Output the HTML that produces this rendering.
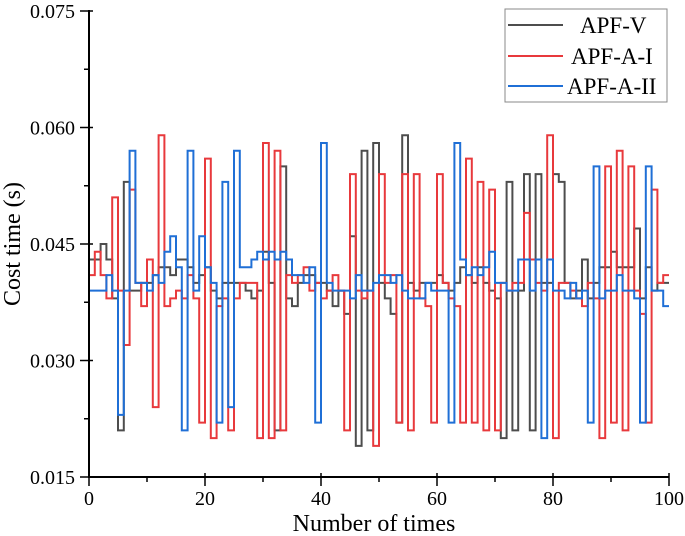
<!DOCTYPE html>
<html><head><meta charset="utf-8"><style>
body{margin:0;background:#fff;}
svg{display:block;font-family:"Liberation Serif","Times New Roman",serif;}
</style></head><body>
<svg id="chart" width="685" height="536">
<g id="plot"></g>
<g id="axes"></g>
<g>
<rect x="505" y="9" width="162" height="93" fill="#fff" stroke="#888" stroke-width="1"/>
<g><line x1="508" y1="25" x2="563" y2="25" stroke="#4d4d4d" stroke-width="2"/><text x="580" y="33" font-size="23">APF-V</text></g>
<g><line x1="508" y1="56" x2="563" y2="56" stroke="#e8393c" stroke-width="2"/><text x="571" y="64" font-size="23">APF-A-I</text></g>
<g><line x1="508" y1="86" x2="563" y2="86" stroke="#1f6fd6" stroke-width="2"/><text x="567" y="94" font-size="23">APF-A-II</text></g>
</g>
<text x="374" y="531" font-size="24" text-anchor="middle">Number of times</text>
<text transform="translate(20,244) rotate(-90)" font-size="24" text-anchor="middle">Cost time (s)</text>
</svg>
<script>
const seriesNames = ["APF-V","APF-A-I","APF-A-II"];
const apfV = [.043,.043,.045,.043,.038,.021,.053,.039,.039,.040,.040,.041,.042,.042,.041,.043,.043,.042,.040,.041,.042,.039,.038,.040,.040,.040,.040,.039,.038,.039,.044,.040,.021,.055,.038,.037,.040,.041,.041,.040,.040,.039,.037,.039,.036,.046,.019,.057,.021,.058,.040,.038,.036,.022,.059,.040,.039,.040,.040,.040,.041,.040,.039,.040,.042,.041,.040,.042,.040,.039,.038,.020,.053,.021,.039,.054,.021,.054,.040,.040,.054,.053,.040,.038,.039,.043,.038,.040,.042,.042,.044,.042,.042,.042,.047,.038,.042,.039,.040,.040];
const apfAI = [.041,.044,.041,.038,.051,.039,.032,.052,.040,.037,.043,.024,.059,.037,.038,.039,.038,.041,.038,.022,.056,.020,.037,.038,.021,.038,.040,.040,.040,.020,.058,.020,.057,.021,.041,.040,.041,.042,.039,.040,.038,.039,.041,.039,.021,.054,.039,.038,.039,.019,.054,.040,.041,.022,.054,.021,.054,.038,.037,.022,.054,.040,.038,.037,.022,.056,.022,.053,.021,.052,.021,.040,.039,.040,.040,.049,.043,.040,.039,.059,.020,.040,.040,.039,.038,.037,.040,.038,.020,.055,.022,.057,.021,.055,.039,.036,.022,.052,.040,.041];
const apfAII = [.039,.039,.039,.041,.039,.023,.039,.057,.040,.040,.039,.041,.040,.044,.046,.042,.021,.057,.039,.046,.042,.040,.022,.053,.024,.057,.042,.042,.043,.044,.043,.044,.043,.044,.043,.041,.041,.040,.042,.022,.058,.040,.039,.039,.039,.038,.041,.039,.039,.040,.041,.041,.040,.041,.039,.038,.038,.038,.040,.039,.039,.039,.022,.058,.043,.041,.042,.041,.042,.044,.040,.040,.039,.039,.043,.043,.039,.043,.020,.043,.039,.039,.038,.040,.038,.039,.022,.055,.038,.039,.039,.041,.039,.039,.038,.022,.055,.039,.039,.037];
const yTicks = [0.015,0.030,0.045,0.060,0.075];
const yTickLabels = ["0.015","0.030","0.045","0.060","0.075"];
const xTicks = [0,20,40,60,80,100];

const X0=89,X1=669,Y0=477,Y1=11;
const sx = v => X0 + (v-0)/(100-0)*(X1-X0);
const sy = v => Y0 - (v-0.015)/(0.075-0.015)*(Y0-Y1);
const NS="http://www.w3.org/2000/svg";
const plot=document.getElementById('plot'), axes=document.getElementById('axes');
function mk(tag,attrs,parent){const e=document.createElementNS(NS,tag);for(const k in attrs)e.setAttribute(k,attrs[k]);parent.appendChild(e);return e;}

function stepPath(vals){
  let d='M'+sx(0)+','+sy(vals[0]);
  for(let i=0;i<vals.length;i++){
    if(i>0) d+=' L'+sx(i)+','+sy(vals[i]);
    d+=' L'+sx(i+1)+','+sy(vals[i]);
  }
  return d;
}
const series=[[apfV,'#4d4d4d','series-apf-v'],[apfAI,'#e8393c','series-apf-a-i'],[apfAII,'#1f6fd6','series-apf-a-ii']];
series.forEach(s=>{
  const p=mk('path',{d:stepPath(s[0]),fill:'none',stroke:s[1],'stroke-width':2,'stroke-linejoin':'miter'},plot);
  
  
});

mk('line',{x1:X0,y1:Y1-1,x2:X0,y2:Y0+1,stroke:'#000','stroke-width':2},axes);
mk('line',{x1:X0-1,y1:Y0,x2:X1,y2:Y0,stroke:'#000','stroke-width':2},axes);
yTicks.forEach((v,i)=>{
  const y=sy(v);
  mk('line',{x1:X0-9,y1:y,x2:X0+4,y2:y,stroke:'#000','stroke-width':1.5},axes);
  if(i<yTicks.length-1){const ym=sy(v+0.0075);mk('line',{x1:X0-5,y1:ym,x2:X0,y2:ym,stroke:'#000','stroke-width':1.5},axes);}
  const t=mk('text',{x:X0-14,y:y+7,'font-size':20,'text-anchor':'end'},axes);
  t.textContent=yTickLabels[i];
  
  
});
xTicks.forEach((v,i)=>{
  const x=sx(v);
  mk('line',{x1:x,y1:Y0-4,x2:x,y2:Y0+9,stroke:'#000','stroke-width':1.5},axes);
  if(i<xTicks.length-1){const xm=sx(v+10);mk('line',{x1:xm,y1:Y0,x2:xm,y2:Y0+5,stroke:'#000','stroke-width':1.5},axes);}
  const t=mk('text',{x:x,y:Y0+28,'font-size':20,'text-anchor':'middle'},axes);
  t.textContent=String(v);
  
  
});
</script>
</body></html>
